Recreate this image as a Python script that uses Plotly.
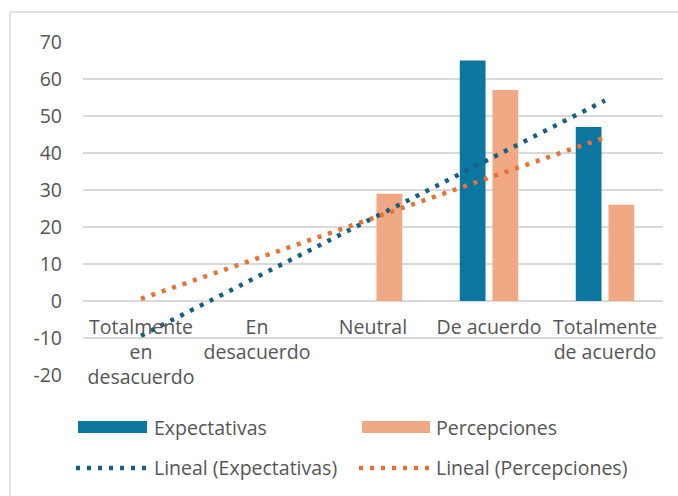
import numpy as np
import plotly.graph_objects as go

# Survey answers per response category
categories = ["Totalmente en desacuerdo", "En desacuerdo", "Neutral", "De acuerdo", "Totalmente de acuerdo"]
tick_text = ["Totalmente<br>en<br>desacuerdo", "En<br>desacuerdo", "Neutral", "De acuerdo", "Totalmente<br>de acuerdo"]
expectativas = [0, 0, 0, 65, 47]
percepciones = [0, 0, 29, 57, 26]
y_ticks = [-20, -10, 0, 10, 20, 30, 40, 50, 60, 70]

FONT = "Open Sans"
TXT = "#555555"
GRID = "#d9d9d9"
C_EXP = "#0b769f"
C_PER = "#f1a983"
C_EXP_TREND = "#156082"
C_PER_TREND = "#e97132"
FS = 19.5


def linear_trend(values):
    # least-squares straight line over category positions 1..n
    xs = np.arange(1, len(values) + 1)
    slope, intercept = np.polyfit(xs, values, 1)
    return (slope * xs + intercept).tolist()


fig = go.Figure()
fig.add_trace(go.Bar(x=categories, y=expectativas, name="Expectativas",
                     marker=dict(color=C_EXP, line=dict(width=0))))
fig.add_trace(go.Bar(x=categories, y=percepciones, name="Percepciones",
                     marker=dict(color=C_PER, line=dict(width=0))))
fig.add_trace(go.Scatter(x=categories, y=linear_trend(expectativas), mode="lines",
                         name="Lineal (Expectativas)",
                         line=dict(color=C_EXP_TREND, width=4.5, dash="4px,7px")))
fig.add_trace(go.Scatter(x=categories, y=linear_trend(percepciones), mode="lines",
                         name="Lineal (Percepciones)",
                         line=dict(color=C_PER_TREND, width=4.5, dash="4px,7px")))

# plot area geometry in pixels (for the legend block and outer frame)
W, H = 678, 496
ML, MR, MT, MB = 83, 15, 42, 121
PW, PH = W - ML - MR, H - MT - MB


def px(x):
    return (x - ML) / PW


def py(y):
    return (H - MB - y) / PH


shapes = [
    # chart frame
    dict(type="rect", xref="paper", yref="paper", x0=px(10), x1=px(720), y0=py(530), y1=py(12),
         line=dict(color=GRID, width=1.5), fillcolor="rgba(0,0,0,0)", layer="below"),
    # legend swatches
    dict(type="rect", xref="paper", yref="paper", x0=px(78), x1=px(147), y0=py(433), y1=py(421),
         line=dict(width=0), fillcolor=C_EXP),
    dict(type="rect", xref="paper", yref="paper", x0=px(362), x1=px(430), y0=py(433), y1=py(421),
         line=dict(width=0), fillcolor=C_PER),
    dict(type="line", xref="paper", yref="paper", x0=px(76), x1=px(148), y0=py(468), y1=py(468),
         line=dict(color=C_EXP_TREND, width=4.5, dash="4px,7px")),
    dict(type="line", xref="paper", yref="paper", x0=px(359), x1=px(431), y0=py(468), y1=py(468),
         line=dict(color=C_PER_TREND, width=4.5, dash="4px,7px")),
]

annotations = []
for label, x, y in [("Expectativas", 152, 427), ("Percepciones", 434, 427),
                    ("Lineal (Expectativas)", 152, 467), ("Lineal (Percepciones)", 434, 467)]:
    annotations.append(dict(text=label, xref="paper", yref="paper", x=px(x), y=py(y),
                            xanchor="left", yanchor="middle", showarrow=False,
                            font=dict(family=FONT, size=FS, color=TXT)))

fig.update_layout(
    width=W, height=H,
    margin=dict(l=ML, r=MR, t=MT, b=MB),
    paper_bgcolor="white", plot_bgcolor="white",
    barmode="group", bargap=0.436, bargroupgap=0.212,
    showlegend=False,
    font=dict(family=FONT, size=FS, color=TXT),
    shapes=shapes, annotations=annotations,
    xaxis=dict(
        type="category", tickmode="array", tickvals=categories, ticktext=tick_text,
        showgrid=False, showline=False, zeroline=False, ticks="",
        anchor="free", position=20 / 90, ticklabelstandoff=12,
        tickfont=dict(family=FONT, size=FS, color=TXT),
    ),
    yaxis=dict(
        range=[-20, 70], tickmode="array", tickvals=y_ticks,
        ticktext=[str(v) for v in y_ticks],
        showgrid=True, gridcolor=GRID, gridwidth=1.8,
        zeroline=True, zerolinecolor=GRID, zerolinewidth=1.8,
        ticks="", ticklabelstandoff=20, showline=False,
        tickfont=dict(family=FONT, size=FS, color=TXT),
    ),
)

fig.write_html("out.html")
